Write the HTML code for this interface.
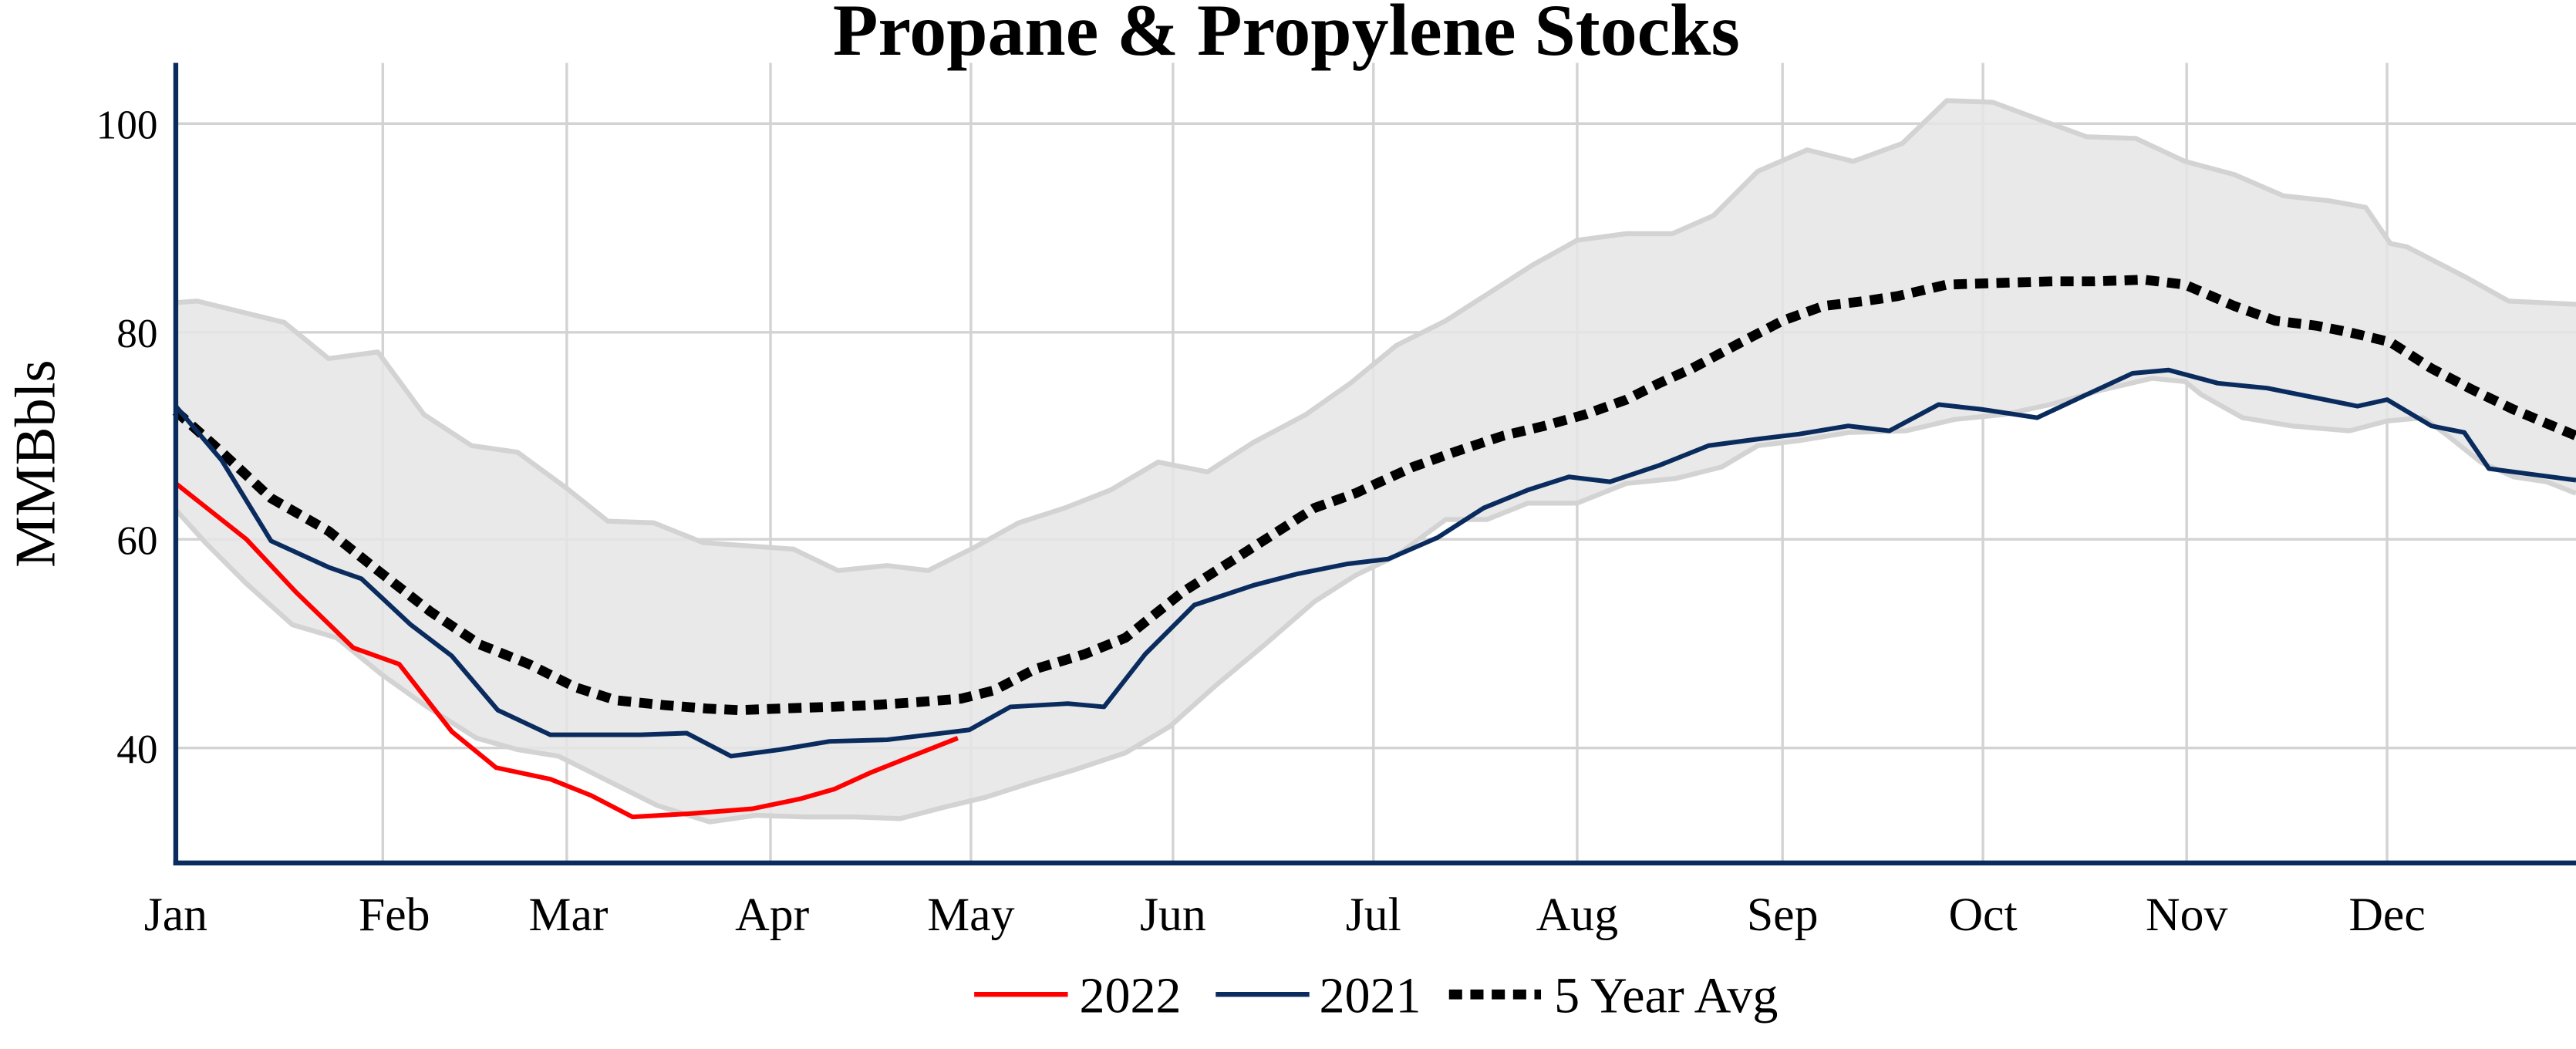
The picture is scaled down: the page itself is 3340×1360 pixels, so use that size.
<!DOCTYPE html>
<html><head><meta charset="utf-8"><style>
html,body{margin:0;padding:0;background:#fff;}
svg{display:block;}
text{font-family:"Liberation Serif",serif;fill:#000;}
</style></head><body>
<svg width="3340" height="1360" viewBox="0 0 1568 638" xmlns="http://www.w3.org/2000/svg">
<rect width="1568" height="638" fill="#fff"/>
<g stroke="#d3d3d3" stroke-width="1.6" fill="none">
<line x1="107" y1="75" x2="1568" y2="75"/>
<line x1="107" y1="202" x2="1568" y2="202"/>
<line x1="107" y1="328" x2="1568" y2="328"/>
<line x1="107" y1="455" x2="1568" y2="455"/>
<line x1="233" y1="38" x2="233" y2="525"/>
<line x1="345" y1="38" x2="345" y2="525"/>
<line x1="469" y1="38" x2="469" y2="525"/>
<line x1="591" y1="38" x2="591" y2="525"/>
<line x1="714" y1="38" x2="714" y2="525"/>
<line x1="836" y1="38" x2="836" y2="525"/>
<line x1="960" y1="38" x2="960" y2="525"/>
<line x1="1085" y1="38" x2="1085" y2="525"/>
<line x1="1207" y1="38" x2="1207" y2="525"/>
<line x1="1331" y1="38" x2="1331" y2="525"/>
<line x1="1453" y1="38" x2="1453" y2="525"/>
</g>
<polygon fill="#e5e5e5" fill-opacity="0.85" points="107,184 120,183 173,196 200,218 230,214 258,252 287,271 315,275 345,297 370,317 398,318 428,330 455,332 483,334 510,347 540,344 565,347 593,333 620,318 648,309 676,298 705,281 735,287 763,269 795,252 822,233 850,210 880,195 905,179 933,161 960,146 990,142 1018,142 1043,131 1070,104 1100,91 1128,98 1158,87 1185,61 1213,62 1240,72 1270,83 1300,84 1330,98 1360,106 1390,119 1418,122 1440,126 1455,148 1465,150 1500,168 1527,183 1568,185 1568,300 1550,293 1530,290 1510,281 1490,265 1475,254 1453,256 1430,262 1395,259 1365,254 1340,240 1330,232 1310,230 1280,237 1248,246 1220,252 1190,255 1160,262 1125,263 1095,268 1070,271 1048,284 1020,291 990,294 960,306 930,306 905,316 880,316 850,338 825,350 800,366 770,392 740,417 712,442 685,458 655,468 625,477 600,485 575,491 548,498 520,497 490,497 460,496 432,500 400,490 370,475 340,460 315,456 290,449 260,430 232,410 205,388 178,380 150,355 125,330 107,310"/>
<g fill="none" stroke="#d3d3d3" stroke-width="3" stroke-linejoin="round">
<polyline points="107,184 120,183 173,196 200,218 230,214 258,252 287,271 315,275 345,297 370,317 398,318 428,330 455,332 483,334 510,347 540,344 565,347 593,333 620,318 648,309 676,298 705,281 735,287 763,269 795,252 822,233 850,210 880,195 905,179 933,161 960,146 990,142 1018,142 1043,131 1070,104 1100,91 1128,98 1158,87 1185,61 1213,62 1240,72 1270,83 1300,84 1330,98 1360,106 1390,119 1418,122 1440,126 1455,148 1465,150 1500,168 1527,183 1568,185"/>
<polyline points="107,310 125,330 150,355 178,380 205,388 232,410 260,430 290,449 315,456 340,460 370,475 400,490 432,500 460,496 490,497 520,497 548,498 575,491 600,485 625,477 655,468 685,458 712,442 740,417 770,392 800,366 825,350 850,338 880,316 905,316 930,306 960,306 990,294 1020,291 1048,284 1070,271 1095,268 1125,263 1160,262 1190,255 1220,252 1248,246 1280,237 1310,230 1330,232 1340,240 1365,254 1395,259 1430,262 1453,256 1475,254 1490,265 1510,281 1530,290 1550,293 1568,300"/>
</g>
<polyline fill="none" stroke="#000" stroke-width="6" stroke-dasharray="8,5" points="107,250 135,275 165,303 200,323 230,347 262,372 292,392 322,404 350,418 375,426 405,429 430,431 450,432 475,431 505,430 530,429 560,427 585,425 605,420 630,407 660,398 685,388 700,376 720,360 750,341 775,325 800,309 825,300 860,284 885,275 915,265 940,259 965,252 990,243 1010,233 1030,224 1060,208 1085,195 1110,186 1135,183 1155,180 1185,173 1215,172 1250,171 1275,171 1305,170 1330,173 1360,186 1385,195 1410,198 1430,202 1455,208 1480,224 1505,237 1530,249 1568,265"/>
<polyline fill="none" stroke="#0a2b5e" stroke-width="2.8" stroke-linejoin="round" points="107,247 135,280 165,329 200,345 220,352 250,380 275,399 303,432 335,447 360,447 390,447 418,446 445,460 475,456 505,451 540,450 565,447 590,444 615,430 650,428 672,430 697,398 727,368 763,356 790,349 820,343 845,340 875,327 903,309 930,298 955,290 980,293 1010,283 1040,271 1070,267 1095,264 1125,259 1150,262 1180,246 1207,249 1240,254 1270,240 1298,227 1320,225 1350,233 1380,236 1410,242 1435,247 1453,243 1480,259 1500,263 1515,285 1545,289 1568,292"/>
<polyline fill="none" stroke="#ff0000" stroke-width="2.8" stroke-linejoin="round" points="107,294 150,328 180,360 215,394 243,404 275,445 302,467 335,474 360,484 385,497 420,495 458,492 487,486 508,480 530,470 555,460 583,449"/>
<line x1="107" y1="38" x2="107" y2="526.5" stroke="#0a2b5e" stroke-width="3"/>
<line x1="105.5" y1="525" x2="1568" y2="525" stroke="#0a2b5e" stroke-width="3"/>
<text x="783" y="33" text-anchor="middle" font-size="45" font-weight="bold">Propane &amp; Propylene Stocks</text>
<g font-size="25" text-anchor="end">
<text x="96" y="84">100</text>
<text x="96" y="211">80</text>
<text x="96" y="337">60</text>
<text x="96" y="464">40</text>
</g>
<text transform="translate(33,282) rotate(-90)" font-size="35" text-anchor="middle">MMBbls</text>
<g font-size="29" text-anchor="middle">
<text x="107" y="566">Jan</text>
<text x="240" y="566">Feb</text>
<text x="346" y="566">Mar</text>
<text x="470" y="566">Apr</text>
<text x="591" y="566">May</text>
<text x="714" y="566">Jun</text>
<text x="836" y="566">Jul</text>
<text x="960" y="566">Aug</text>
<text x="1085" y="566">Sep</text>
<text x="1207" y="566">Oct</text>
<text x="1331" y="566">Nov</text>
<text x="1453" y="566">Dec</text>
</g>
<line x1="593" y1="605" x2="650" y2="605" stroke="#ff0000" stroke-width="3"/>
<text x="657" y="616" font-size="31">2022</text>
<line x1="740" y1="605" x2="797" y2="605" stroke="#0a2b5e" stroke-width="3"/>
<text x="803" y="616" font-size="31">2021</text>
<line x1="882" y1="605" x2="938" y2="605" stroke="#000" stroke-width="6" stroke-dasharray="8,5"/>
<text x="946" y="616" font-size="31">5 Year Avg</text>
</svg>
</body></html>
